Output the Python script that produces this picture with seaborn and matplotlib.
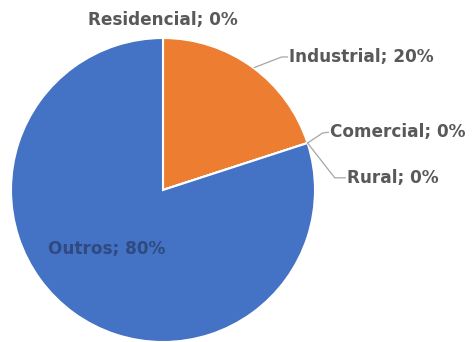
import numpy as np
import matplotlib
matplotlib.use("Agg")
import matplotlib.pyplot as plt
import seaborn as sns

categories = ["Residencial", "Industrial", "Comercial", "Rural", "Outros"]
values = [0, 20, 0, 0, 80]
colors = ["#5B9BD5", "#ED7D31", "#A5A5A5", "#FFC000", "#4472C4"]

sns.set_theme(style="white")
plt.rcParams['font.family'] = ['DejaVu Sans']

fig = plt.figure(figsize=(4.74, 3.42), dpi=100)
ax = fig.add_axes([11/474, 0.0, 304/474, 304/342])
ax.pie(values, colors=colors, startangle=90, counterclock=False,
       wedgeprops=dict(edgecolor="white", linewidth=1.5), radius=1.0)
ax.set_xlim(-1, 1)
ax.set_ylim(-1, 1)
ax.set_aspect("equal")
ax.axis("off")

total = sum(values)
cum = np.cumsum([0] + values[:-1]) / total
mid = 90 - 360 * (cum + np.array(values) / total / 2)
labels = [f"{c}; {v}%" for c, v in zip(categories, values)]
tc = "#595959"
lc = "#A6A6A6"
fs = 12.2

# Residencial
ax.text(0, 1.12, labels[0], ha="center", va="center", color=tc,
        fontsize=fs, fontweight="bold")
# Industrial
a = np.deg2rad(mid[1])
ax.plot([np.cos(a) * 1.02, 0.78, 0.82], [np.sin(a) * 1.02 - 0.02, 0.875, 0.875],
        color=lc, lw=0.9, clip_on=False)
ax.text(0.83, 0.875, labels[1], ha="left", va="center", color=tc,
        fontsize=fs, fontweight="bold")
# Comercial
a = np.deg2rad(mid[2])
ax.plot([np.cos(a), 1.05, 1.09], [np.sin(a), 0.375, 0.38],
        color=lc, lw=0.9, clip_on=False)
ax.text(1.1, 0.38, labels[2], ha="left", va="center", color=tc,
        fontsize=fs, fontweight="bold")
# Rural
a = np.deg2rad(mid[3])
ax.plot([np.cos(a), 1.13, 1.2], [np.sin(a), 0.08, 0.08],
        color=lc, lw=0.9, clip_on=False)
ax.text(1.21, 0.08, labels[3], ha="left", va="center", color=tc,
        fontsize=fs, fontweight="bold")
# Outros
ax.text(-0.37, -0.39, labels[4], ha="center", va="center", color="#2F4A80",
        fontsize=fs, fontweight="bold")

fig.savefig("out.png", dpi=100)
